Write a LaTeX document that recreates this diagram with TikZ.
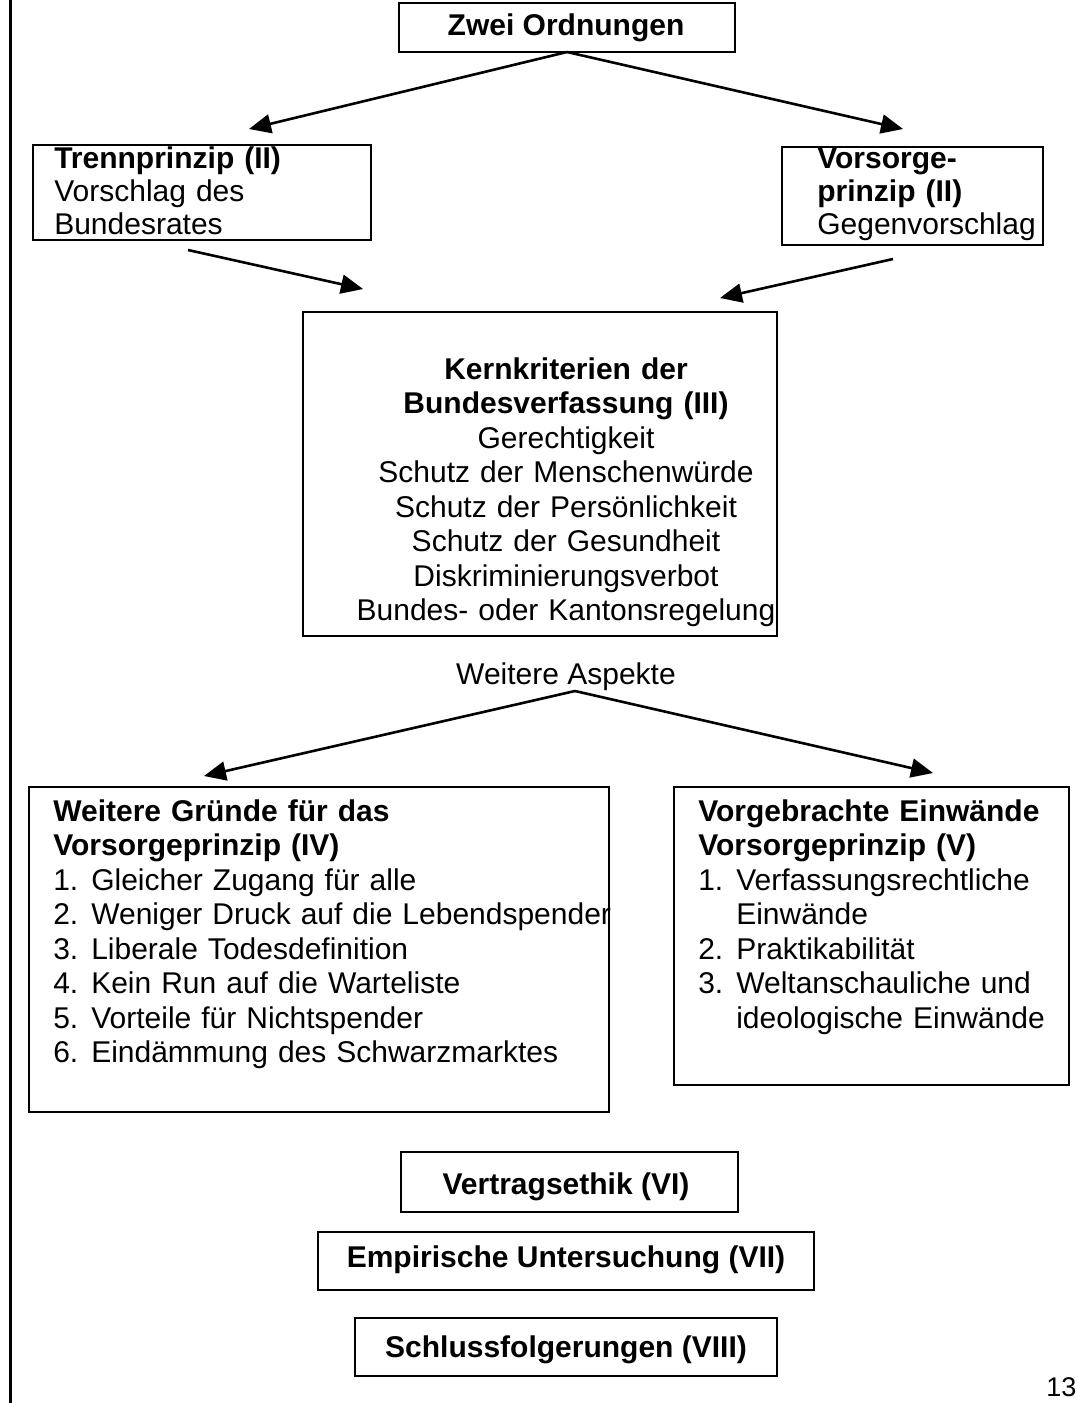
\documentclass[tikz,border=0pt]{standalone}
\usepackage{fontspec}
\setmainfont{Liberation Sans}
\usetikzlibrary{arrows.meta}

\newcommand{\nr}[1]{\makebox[38pt][l]{#1}}

\begin{document}
\begin{tikzpicture}[x=1pt,y=-1pt,line width=2.6pt,
        box/.style={draw,anchor=north west,inner sep=0pt,outer sep=0pt},
        txt/.style={inner sep=0pt,font=\fontsize{30}{34.5}\selectfont},
        arr/.style={-{Triangle[length=22pt,width=19pt]}}]
    \useasboundingbox (0,0) rectangle (1077,1403);
    \draw[line width=3pt] (10,0) -- (10,1403);

    % boxes
    \node[box,minimum width=336pt,minimum height=49pt] (ZO) at (399,3) {};
    \node[box,minimum width=338pt,minimum height=95pt] (TP) at (33,145) {};
    \node[box,minimum width=261pt,minimum height=98pt] (VP) at (782,147) {};
    \node[box,minimum width=474pt,minimum height=324pt] (KK) at (303,312) {};
    \node[box,minimum width=580pt,minimum height=325pt] (WG) at (29,787) {};
    \node[box,minimum width=395pt,minimum height=298pt] (VE) at (674,787) {};
    \node[box,minimum width=337pt,minimum height=60pt] (VT) at (401,1152) {};
    \node[box,minimum width=496pt,minimum height=58pt] (EU) at (318,1232) {};
    \node[box,minimum width=422pt,minimum height=58pt] (SF) at (355,1318) {};

    % texts
    \node[txt,anchor=base] (ZOt) at (566,35) {\textbf{Zwei Ordnungen}};
    \node[txt,font=\fontsize{30}{33}\selectfont,anchor=base west,text width=330pt,align=left] (TPt) at (53,168)
        {\textbf{Trennprinzip (II)}\\Vorschlag des\\Bundesrates};
    \node[txt,font=\fontsize{30}{33}\selectfont,anchor=base west,text width=250pt,align=left] (VPt) at (816,168)
        {\textbf{Vorsorge-}\\\textbf{prinzip (II)}\\Gegenvorschlag};
    \node[txt,anchor=base,text width=480pt,align=center] (KKt) at (566,379)
        {\textbf{Kernkriterien der}\\\textbf{Bundesverfassung (III)}\\Gerechtigkeit\\
         Schutz der Menschenwürde\\Schutz der Persönlichkeit\\Schutz der Gesundheit\\
         Diskriminierungsverbot\\Bundes- oder Kantonsregelung};
    \node[txt,anchor=base] (WAt) at (566,684) {Weitere Aspekte};
    \node[txt,anchor=base west,text width=600pt,align=left] (WGt) at (52,821)
        {\textbf{Weitere Gründe für das}\\\textbf{Vorsorgeprinzip (IV)}\\
         \nr{1.}Gleicher Zugang für alle\\
         \nr{2.}Weniger Druck auf die Lebendspender\\
         \nr{3.}Liberale Todesdefinition\\
         \nr{4.}Kein Run auf die Warteliste\\
         \nr{5.}Vorteile für Nichtspender\\
         \nr{6.}Eindämmung des Schwarzmarktes};
    \node[txt,anchor=base west,text width=500pt,align=left] (VEt) at (697,821)
        {\textbf{Vorgebrachte Einwände}\\\textbf{Vorsorgeprinzip (V)}\\
         \nr{1.}Verfassungsrechtliche\\
         \nr{}Einwände\\
         \nr{2.}Praktikabilität\\
         \nr{3.}Weltanschauliche und\\
         \nr{}ideologische Einwände};
    \node[txt,anchor=base] (VTt) at (566,1194) {\textbf{Vertragsethik (VI)}};
    \node[txt,anchor=base] (EUt) at (566,1267) {\textbf{Empirische Untersuchung (VII)}};
    \node[txt,anchor=base] (SFt) at (566,1357) {\textbf{Schlussfolgerungen (VIII)}};
    \node[anchor=base west,inner sep=0pt,font=\fontsize{27}{30}\selectfont] (PG) at (1045,1396) {13};

    % arrows
    \coordinate (ZOl) at (249,129);
    \coordinate (ZOr) at (903,129);
    \coordinate (TPs) at (188,250);
    \coordinate (TPe) at (363,289);
    \coordinate (VPs) at (893,259);
    \coordinate (VPe) at (720,298);
    \coordinate (WAs) at (575,691);
    \coordinate (WAl) at (204,776);
    \coordinate (WAr) at (933,773);

    \draw[arr] (ZO.south) -- (ZOl);
    \draw[arr] (ZO.south) -- (ZOr);
    \draw[arr] (TPs) -- (TPe);
    \draw[arr] (VPs) -- (VPe);
    \draw[arr] (WAs) -- (WAl);
    \draw[arr] (WAs) -- (WAr);
\end{tikzpicture}
\end{document}
